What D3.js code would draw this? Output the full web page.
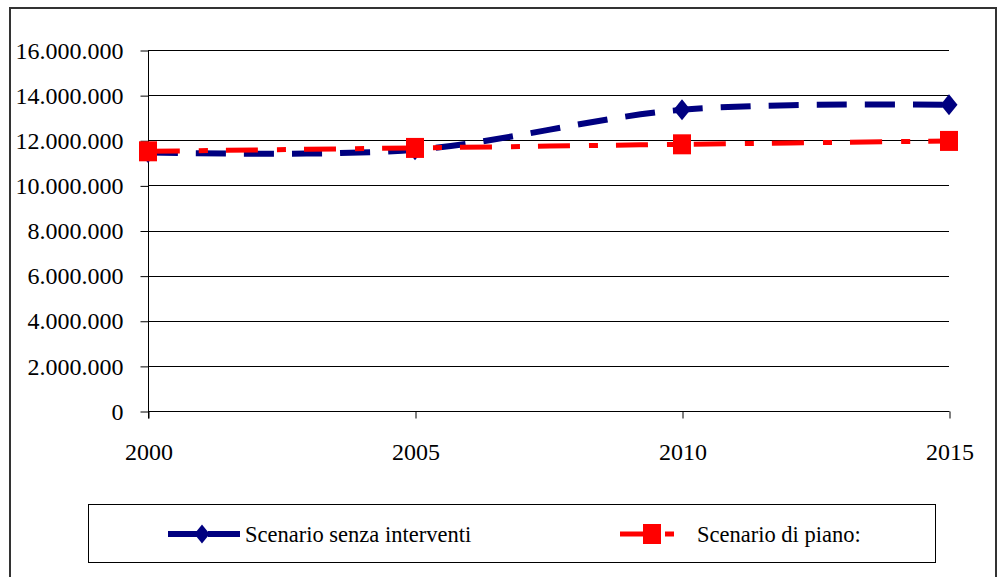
<!DOCTYPE html>
<html><head><meta charset="utf-8">
<script src="https://cdn.jsdelivr.net/npm/d3@7"></script>
<style>body{margin:0;background:#fff}svg{display:block}text{font-family:"Liberation Serif","Times New Roman",serif;fill:#000}</style>
</head><body><svg id="c" width="1000" height="577"></svg>
<script>
const years = [2000, 2005, 2010, 2015];
const senzaInterventi = [11460000, 11580000, 13350000, 13570000];
const scenarioPiano = [11510000, 11660000, 11820000, 11970000];
const yTicks = [0, 2000000, 4000000, 6000000, 8000000, 10000000, 12000000, 14000000, 16000000];
const seriesNames = ["Scenario senza interventi", "Scenario di piano:"];

const svg = d3.select("#c");
svg.append("rect").attr("x",10).attr("y",8).attr("width",986).attr("height",600)
  .attr("fill","none").attr("stroke","#333").attr("stroke-width",2);

const x = d3.scaleLinear().domain([2000,2015]).range([148,949]);
const y = d3.scaleLinear().domain([0,16000000]).range([411,50]);
const fmt = d => d3.format(",")(d).replace(/,/g,".");
const serif = '"Liberation Serif",serif';

// gridlines
svg.append("g").selectAll("line").data(yTicks.slice(1)).join("line")
  .attr("x1",148).attr("x2",949).attr("y1",d=>Math.round(y(d))+0.5).attr("y2",d=>Math.round(y(d))+0.5)
  .attr("stroke","#000").attr("stroke-width",1);

// y axis
const ya = svg.append("g").attr("transform","translate(148.5,0.5)")
  .call(d3.axisLeft(y).tickValues(yTicks).tickSize(8).tickPadding(17).tickFormat(fmt));
ya.attr("font-family",serif);
ya.select(".domain").remove();
ya.append("line").attr("x1",0).attr("x2",0).attr("y1",y(16000000)).attr("y2",y(0)+7).attr("stroke","#000");
ya.selectAll(".tick line").attr("stroke","#000");
ya.selectAll("text").style("font-family",serif).style("font-size","24px").attr("fill","#000");

// x axis
const xa = svg.append("g").attr("transform","translate(0.5,"+(Math.round(y(0))+0.5)+")")
  .call(d3.axisBottom(x).tickValues(years).tickSize(7).tickPadding(0).tickFormat(d3.format("d")));
xa.attr("font-family",serif);
xa.select(".domain").attr("d","M148,0H949");
xa.selectAll(".tick line").attr("stroke","#000");
xa.selectAll("text").style("font-family",serif).style("font-size","24px").attr("fill","#000").attr("dy",null).attr("y",48);

// series
const blue = "#000080", red = "#ff0000";
const lineB = d3.line().x((d,i)=>x(years[i])).y(d=>y(d)).curve(d3.curveCatmullRom.alpha(0));
const lineR = d3.line().x((d,i)=>x(years[i])).y(d=>y(d)).curve(d3.curveCatmullRom.alpha(0));
svg.append("path").attr("d",lineB(senzaInterventi)).attr("fill","none").attr("stroke",blue)
  .attr("stroke-width",6).attr("stroke-dasharray","30,18");
svg.append("path").attr("d",lineR(scenarioPiano)).attr("fill","none").attr("stroke",red)
  .attr("stroke-width",5).attr("stroke-dasharray","32,19,9,18");

const diamond = (cx,cy,s)=>`M${cx},${cy-s*1.05}L${cx+s*0.85},${cy}L${cx},${cy+s*1.05}L${cx-s*0.85},${cy}Z`;
svg.append("g").selectAll("path").data(senzaInterventi).join("path")
  .attr("d",(d,i)=>diamond(x(years[i]),y(d),10)).attr("fill",blue);
svg.append("g").selectAll("rect").data(scenarioPiano).join("rect")
  .attr("x",(d,i)=>x(years[i])-9).attr("y",d=>y(d)-10).attr("width",18).attr("height",20).attr("fill",red);

// legend
svg.append("rect").attr("x",88.5).attr("y",504.5).attr("width",847).attr("height",58)
  .attr("fill","none").attr("stroke","#000").attr("stroke-width",1);
const lg = svg.append("g");
lg.append("line").attr("x1",168).attr("x2",240).attr("y1",534).attr("y2",534).attr("stroke",blue)
  .attr("stroke-width",6).attr("stroke-dasharray","32,8");
lg.append("path").attr("d",diamond(202,534,9)).attr("fill",blue);
lg.append("text").attr("x",245).attr("y",542).style("font-family",serif).style("font-size","22.5px").text(seriesNames[0]);
lg.append("line").attr("x1",620).attr("x2",685).attr("y1",534).attr("y2",534).attr("stroke",red)
  .attr("stroke-width",5).attr("stroke-dasharray","32,13,9,50");
lg.append("rect").attr("x",643).attr("y",524).attr("width",18).attr("height",20).attr("fill",red);
lg.append("text").attr("x",697).attr("y",542).style("font-family",serif).style("font-size","22.5px").text(seriesNames[1]);
</script></body></html>
